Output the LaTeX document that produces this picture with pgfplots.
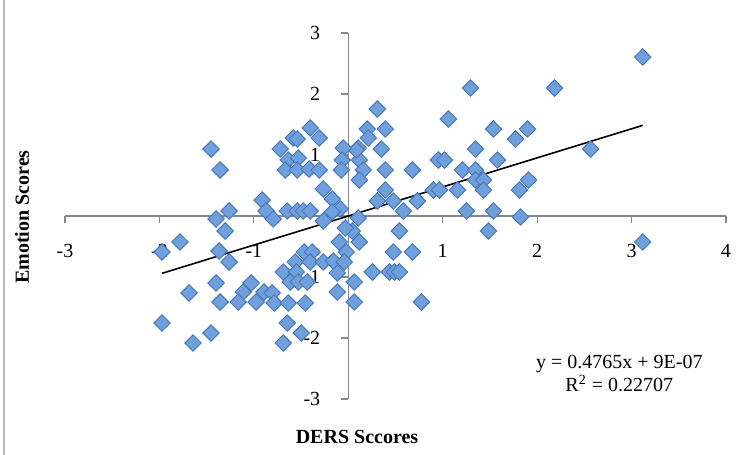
\documentclass[border=0pt]{standalone}
\usepackage{fontspec}
\setmainfont{Liberation Serif}
\usepackage{pgfplots}
\pgfplotsset{compat=1.18}
\usepackage{pgfplotstable}
\usetikzlibrary{shadows}
\definecolor{mfill}{RGB}{112,160,220}
\definecolor{medge}{RGB}{72,120,188}
\definecolor{axgray}{RGB}{134,134,134}

\pgfplotstableread{
x y
3.118 2.607
3.118 -0.426
2.185 2.098
2.566 1.098
1.294 2.098
1.060 1.590
1.538 1.426
1.898 1.426
1.771 1.262
0.308 1.754
0.201 1.426
0.392 1.426
0.212 1.279
0.106 1.115
0.350 1.098
1.347 1.098
1.580 0.918
0.954 0.918
1.018 0.918
0.117 0.918
0.159 0.754
0.392 0.754
0.679 0.754
1.209 0.754
1.347 0.754
0.117 0.590
1.347 0.590
1.432 0.590
1.909 0.590
1.813 0.426
0.392 0.426
0.901 0.426
0.965 0.426
1.156 0.426
1.432 0.426
0.308 0.246
0.477 0.246
0.732 0.246
0.583 0.082
1.251 0.082
1.538 0.082
0.106 -0.033
1.824 -0.016
0.541 -0.246
1.485 -0.246
0.117 -0.426
0.477 -0.590
0.679 -0.590
0.255 -0.918
0.435 -0.918
0.488 -0.918
0.541 -0.918
0.064 -1.082
0.064 -1.410
0.774 -1.410
0.085 1.082
0.042 -0.246
-1.453 1.098
-1.357 0.754
-0.403 1.443
-0.308 1.279
-0.721 1.098
-0.583 1.279
-0.541 1.262
-0.636 0.918
-0.530 0.951
-0.668 0.754
-0.541 0.754
-0.414 0.770
-0.308 0.754
-0.053 1.115
-0.064 0.918
-0.074 0.754
-0.265 0.443
-0.170 0.279
-0.085 0.115
-0.912 0.262
-0.870 0.082
-1.262 0.082
-1.400 -0.049
-0.647 0.082
-0.541 0.082
-0.477 0.082
-0.403 0.082
-0.795 -0.049
-1.782 -0.426
-1.972 -0.590
-1.304 -0.246
-1.368 -0.574
-1.262 -0.754
-0.265 -0.082
-0.170 0.066
-0.095 -0.426
-0.021 -0.590
-0.117 -0.934
-0.117 -1.246
-0.467 -0.590
-0.382 -0.590
-0.562 -0.754
-0.403 -0.754
-0.265 -0.754
-0.159 -0.738
-0.042 -0.754
-0.689 -0.918
-0.551 -0.918
-0.615 -1.082
-0.530 -1.082
-0.435 -1.082
-1.400 -1.098
-1.686 -1.262
-1.029 -1.098
-1.113 -1.246
-0.891 -1.246
-0.806 -1.262
-1.357 -1.410
-1.166 -1.410
-0.976 -1.410
-0.785 -1.426
-0.636 -1.426
-0.456 -1.426
-1.972 -1.754
-1.453 -1.918
-1.644 -2.082
-0.647 -1.754
-0.498 -1.918
-0.689 -2.082
-0.032 -0.197
}\scores

\begin{document}
\begin{tikzpicture}
\useasboundingbox (0,0) rectangle (376pt,227.5pt);
\begin{axis}[
  scale only axis,
  width=330.5pt, height=183pt,
  anchor=south west, at={(32.5pt,28pt)},
  xmin=-3, xmax=4, ymin=-3, ymax=3,
  enlargelimits=false,
  axis lines=middle,
  axis line style={-, draw=axgray, line width=0.7pt},
  xtick={-3,-2,-1,0,1,2,3,4},
  ytick={-3,-2,-1,0,1,2,3},
  tick align=outside,
  major tick length=3.5pt,
  tick style={draw=axgray, line width=0.6pt},
  /pgf/number format/assume math mode=true,
  ticklabel style={font=\fontsize{10}{12}\selectfont, text=black},
  xticklabel style={yshift=-7pt},
  yticklabel style={xshift=-7pt},
  clip=false,
]
\addplot[black, line width=0.8pt] coordinates {(-1.972,-0.9397) (3.118,1.4857)};
\addplot[only marks, mark=square*, mark size=2.9pt,
  mark options={fill=mfill, draw=medge, line width=0.5pt, rotate=45,
    drop shadow={shadow xshift=0.6pt, shadow yshift=-0.8pt, opacity=0.35}}]
  table[x=x, y=y] {\scores};
\node[font=\fontsize{10}{12}\selectfont] at (axis cs:2.87,-2.43) {y = 0.4765x + 9E-07};
\node[font=\fontsize{10}{12}\selectfont] at (axis cs:2.87,-2.75) {R\textsuperscript{2} = 0.22707};
\end{axis}
\node[font=\fontsize{10}{12}\selectfont\bfseries, rotate=90] at (11pt,119pt) {Emotion Scores};
\node[font=\fontsize{10}{12}\selectfont\bfseries] at (178.5pt,9pt) {DERS Sccores};
\draw[gray!55, line width=0.6pt] (2pt,0) -- (2pt,227.5pt);
\end{tikzpicture}
\end{document}
